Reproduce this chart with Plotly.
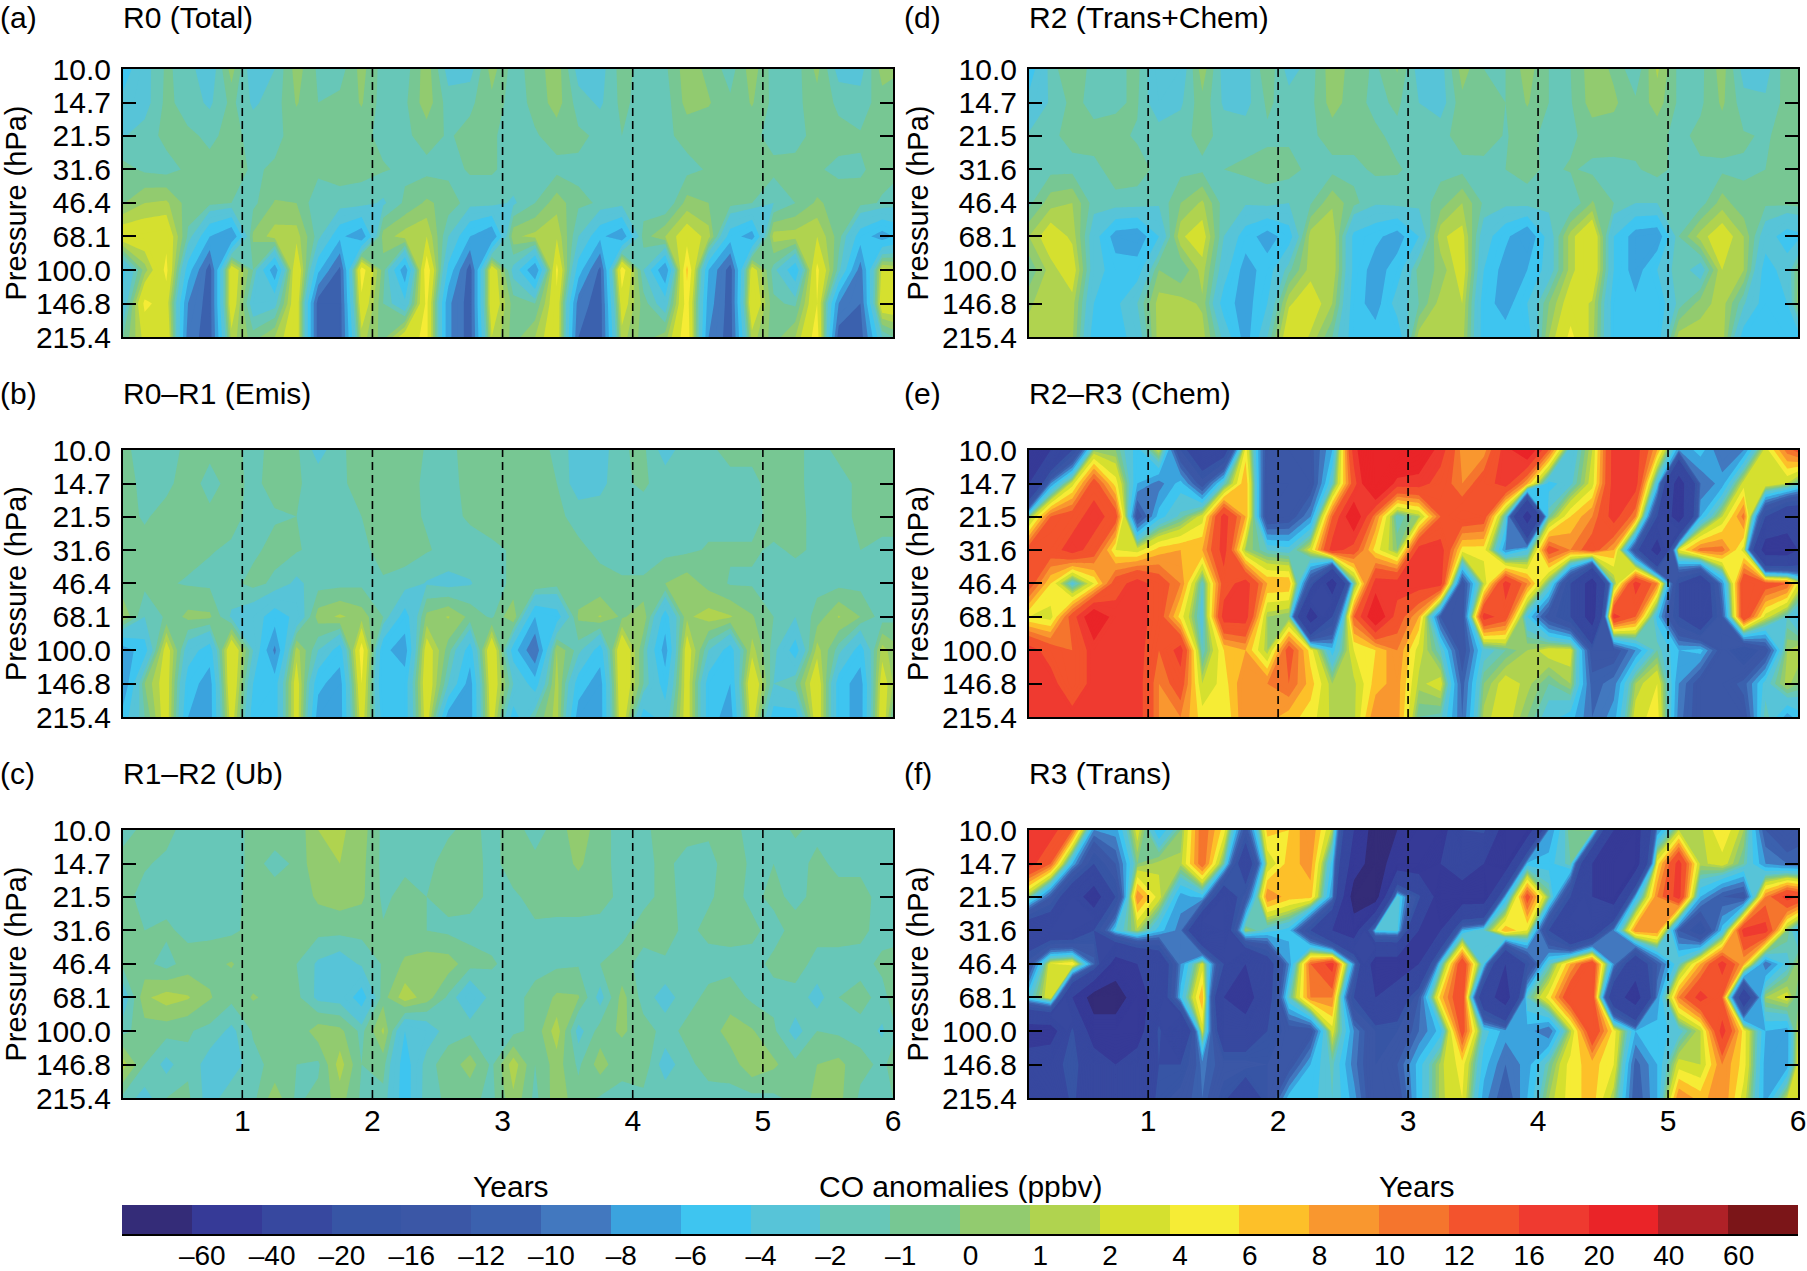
import numpy as np
import plotly.graph_objects as go

years = [0.083,0.25,0.417,0.583,0.75,0.917,1.083,1.25,1.417,1.583,1.75,1.917,
         2.083,2.25,2.417,2.583,2.75,2.917,3.083,3.25,3.417,3.583,3.75,3.917,
         4.083,4.25,4.417,4.583,4.75,4.917,5.083,5.25,5.417,5.583,5.75,5.917,6.0]
pressure = [10.0,14.7,21.5,31.6,46.4,68.1,100.0,146.8,215.4]
pressure_labels = ["10.0","14.7","21.5","31.6","46.4","68.1","100.0","146.8","215.4"]
level_values = [-60,-40,-20,-16,-12,-10,-8,-6,-4,-2,-1,0,1,2,4,6,8,10,12,16,20,40,60]
level_labels = ["–60","–40","–20","–16","–12","–10","–8","–6","–4","–2","–1","0","1","2","4","6","8","10","12","16","20","40","60"]
band_colors = ["#342c78","#363a97","#37489f","#3755a5","#3b57a6","#3b61ae","#4278bf","#3ba3de",
               "#3ec5f0","#57c4d8","#67c7b8","#77c793","#92cb6f","#b0d34f","#d5e02f","#f6ec35",
               "#fdc029","#f9972f","#f5752d","#f3532d","#ef3a30","#ea2428","#af2127","#7b1518"]

R0_total = [
 [-5,-2.5,-0.8,-1.5,-3,0.5,-3,-2,0.5,-1.2, -1.5,0.4,-1.5,-1.5,0.6,-2.5,-2.5,0.5,-1.5,-0.5, 0.6,-2.5,-2.5,-0.5,-1.5,-1.2,0.6,-0.3,-1.5,0.6, -1.5,-1.5,0.3,-2.5,-2.5,0.5,0.2],
 [-3.5,-2.5,-0.7,-1.5,-2.2,-0.7,-2.2,-1.5,0.1,-1, -0.7,0.1,-1.5,-1.2,0.6,-1.5,-1.2,-0.3,-1.5,-0.7, 0.5,-1.5,-2.2,-0.7,-1.5,-1.5,0.4,0.1,-0.8,0.1, -1.3,-1.3,-0.4,-1.2,-1.5,-0.5,-0.5],
 [-2.1,-1.5,-0.7,-0.8,-1.2,-0.7,-1.3,-1.2,-0.7,-0.6, -0.6,-0.7,-1.3,-1.2,-0.6,-1.1,-0.7,-0.9,-1.3,-1.1, -0.6,-0.8,-1.2,-1,-1.3,-1.2,-0.7,-0.7,-0.6,-0.7, -1.4,-1.3,-0.7,-0.7,-0.9,-0.9,-0.8],
 [-0.6,-1.2,-1.4,-0.8,-0.7,-0.7,-1.1,-0.9,-0.7,-0.7, -0.7,-0.7,-0.9,-1.2,-1.3,-1.3,-0.9,-0.9,-1.3,-1.3, -1.3,-1.2,-1.2,-1.2,-1.3,-1.3,-1.3,-0.9,-0.7,-0.7, -0.7,-0.7,-0.9,-1.2,-1.1,-0.7,-0.7],
 [-0.1,1,1.2,-0.5,-0.7,-1,-1.3,0.1,0,-1.8, -1.3,-1.5,-2.2,-0.8,0.2,-0.4,-1.5,-1.5,-2.2,-1, 0.6,-0.8,-1.1,-1.5,-1.6,-2,0.4,0,-0.6,-1, -2,-1,0.2,-0.5,-0.7,-1.1,-1.4],
 [3.2,3.2,3.5,-1.2,-6,-8,0.2,1.5,1.5,-1.5, -5.5,-7.5,0.5,1.5,2,-2,-6,-8,0.8,1.3, 1.8,-2,-5.5,-7.5,-0.5,1,3,1.5,-5,-7, 1.5,1.5,2,-0.5,-5,-7,-6],
 [-4.5,0.5,4.5,-5,-11,3.5,-1,-7.5,4,-5.5, -10.5,5,-0.5,-7.5,5.5,-4.5,-11,3.5,-2.5,-8, 4.5,-5,-10.5,5.2,-2,-8,6.5,-6,-11,3, -1.5,-5.5,4.5,-1.5,-9,2.5,2],
 [-3.5,4.5,3,-8,-11,3.5,-3,-2.5,3.5,-11, -11,3.5,-1,-3.5,4.5,-7.5,-11,3.5,-0.5,-1, 3.5,-9,-11,3,-0.5,-3,5,-7,-11,4, -0.8,-1.2,4,-8,-10,3.5,3.5],
 [-1,2.5,4,-9,-11,1.5,-0.5,1,3.5,-11, -11,1.5,-0.5,3,4.5,-7.5,-11,2,-0.5,1, 3.5,-10,-11,1.5,-0.5,0.5,5.5,-8,-11,1.5, -0.5,1,5,-11,-11,-2,-1],
]
R0_minus_R1 = [
 [-0.7,-1.5,-1.5,-0.7,-0.8,-0.7,-1.3,-0.7,-0.8,-2.5, -1.2,-0.5,-0.2,-0.4,-1.1,-1.2,-0.7,-0.3,-0.7,-0.8, -1.1,-2.8,-2.6,-1.1,-0.8,-2.6,-1.3,-1.2,-0.7,-0.8, -0.7,-0.8,-1.3,-0.8,-0.7,-0.5,-0.6],
 [-0.7,-1.2,-1.2,-0.6,-1.3,-0.7,-1.2,-0.7,-0.9,-1.3, -1.1,-0.8,-0.7,-0.6,-1.2,-1.2,-0.8,-0.8,-0.7,-0.8, -1,-2.7,-2.4,-1.1,-0.9,-1.3,-1.4,-1.1,-1.3,-1.2, -0.7,-0.8,-1.3,-1.3,-0.8,-0.7,-0.7],
 [-0.7,-1.1,-0.7,-0.7,-0.8,-0.8,-1.2,-1.1,-1,-1.3, -1.3,-1,-0.7,-0.7,-1.1,-1.2,-0.9,-0.6,-0.7,-0.7, -0.8,-1.3,-1.3,-1.1,-1.3,-1.3,-1.3,-1.3,-1.3,-1.3, -0.7,-0.9,-1.1,-1.3,-0.8,-0.7,-0.7],
 [-0.7,-0.7,-0.7,-0.7,-0.95,-1.1,-1.2,-0.7,-0.9,-1.3, -1.3,-1.2,-0.7,-0.7,-0.9,-1.3,-1.3,-1.2,-0.9,-0.7, -0.7,-0.8,-1.2,-1.3,-1.3,-1.3,-1.2,-0.9,-0.9,-0.9, -1.1,-0.9,-1.1,-1.3,-1,-1.2,-1.2],
 [-0.8,-0.7,-0.9,-1.1,-1.2,-1.3,-0.7,-1.2,-2.3,-1.4, -1.3,-1.2,-1.1,-1.3,-2.1,-2.4,-2.1,-1.2,-0.9,0, -0.6,-0.7,-0.7,-0.9,-0.9,0,0.6,-0.4,-1.1,-1.1, -1.2,-1.3,-1.3,-1.3,-1.3,-1.3,-1.3],
 [1,-2,-0.8,0.3,0.2,-2.2,-3,-5,-3.5,0.5, 1.2,0.5,-1,-5,0.3,1.1,-0.3,-1.2,1,-6, -5,0.2,1.1,-0.2,0.8,-5,0.8,1.5,1.1,0.1, -1,-2,-0.6,1.1,0,-1.5,-1.3],
 [-7,-5,3,-3,-5,4,-2,-8.5,1.5,-2, -5,5,-5.5,-7,3,-0.5,-5,4,-5,-10, 1,-1.5,-5,4,-1,-7,3,-2,-5,1.5, -1.5,-5,1.5,-1.5,-5,1.5,0.5],
 [-8,0,3,-5,-7,4,-4,-5,3,-5.5, -7,4,-6,-5,3.5,-2,-7,3.5,-2,-5, 1.5,-5,-7,4,-1,-5,3,-5,-6,4, -2,-1,3.5,-5,-7,3,1],
 [-5,-1,3,-6,-7,3,-5,-5,3,-7, -7,3,-5,-5,3,-7,-7,3,-5,-1, 1.5,-7,-7,3.5,-5,-3,3,-5,-7,3, -5,-5,3.5,-5,-7,3.5,-1],
]
R1_minus_R2 = [
 [-1.3,-0.8,-0.7,-1.4,-1.3,-1.3,-0.8,-0.7,-0.7,1, 1.2,0.5,-1.3,-1.4,-1.3,-1.1,-0.8,-1.2,-0.7,-1.3, -0.7,0.8,-0.7,-1.3,-1.2,-0.6,-0.7,-0.9,-0.8,-1.2, -1.3,-0.9,-1.2,-1.3,-1.3,-1.3,-1.3],
 [-0.7,-0.9,-1.2,-1.7,-1.3,-1.3,-0.8,-1.2,-0.9,1, 1,0.3,-1.3,-1.2,-1.2,-0.7,-0.7,-1.2,-0.7,-0.8, -0.6,0.2,-0.7,-1.3,-1.2,-0.8,-1.3,-1.2,-0.7,-1.1, -1,-1.3,-0.8,-1.2,-1.2,-1.3,-1.3],
 [-0.7,-1.3,-1.4,-1.3,-1.3,-1.3,-0.7,-0.7,-0.7,0.2, 0.5,0.2,-1.2,-0.7,-1,-0.7,-0.7,-1.2,-1.1,-0.8, -0.7,-0.7,-0.7,-1.2,-1.2,-0.8,-1.2,-1.1,-0.7,-1.2, -0.8,-1.2,-0.8,-0.7,-0.7,-1.3,-1.3],
 [-0.8,-1,-0.8,-1.3,-1.3,-1.2,-0.7,-0.7,-0.7,-0.7, -0.7,-0.7,-0.9,-0.7,-1,-1.2,-1.3,-1.3,-1.1,-1.1, -1.2,-1.2,-1.3,-1.2,-0.7,-0.7,-1.2,-0.8,-0.7,-0.8, -1.3,-0.7,-0.7,-0.7,-0.8,-1.3,-1.3],
 [-0.7,-0.7,-1.4,-0.5,-0.3,0.1,-0.7,-0.7,-1,-2.2, -2.8,-1.8,-0.9,0.2,0.6,0.5,-0.6,-0.9,-1.3,-1.2, -1.2,-1.1,-1,-0.7,-1.3,-1.1,-1.3,-1.3,-1.3,-1.3, -0.8,-0.6,-1.3,-1.3,-1.3,-0.8,-0.7],
 [-3,0.8,1.5,1.1,0.1,-0.7,0.1,-0.3,-0.7,-2.3, -2.5,-5,-0.4,1.6,0.5,-1.2,-3.5,-1.5,-1.2,-0.8, 0.2,0.1,-2.5,0.4,-1.4,-2.6,-1.3,-0.8,-0.5,-1.2, -1.3,-1.3,-2.5,-1,-0.7,-1.3,-0.7],
 [-1.3,-0.5,-0.6,-0.9,-1.3,-2.3,-0.9,0,-0.8,0.6, 0.3,-1.3,1.2,-4,-3,-1.3,-1.2,-1.3,-1.3,-0.7, 1.6,-2.5,-0.5,0.2,-0.6,-1.3,-0.8,-0.6,0.5,0.1, -0.8,-2.5,-1,-1.2,-1.3,-2.2,-1.2],
 [1.5,-1,-2.4,-1.2,-2.6,-2.7,-1.3,-0.7,-1,-1.2, 1.5,-1,-0.6,-5,-1.3,-0.6,0.5,-1.2,1.6,-1, 0.5,-1.2,0.5,-0.8,-0.3,-2.7,-1.2,-0.7,-0.6,0.8, 0.2,-0.7,0,0.3,-0.7,-1.2,-0.7],
 [-1.3,-2.5,-1,-0.8,-2.6,-1.2,-1.3,0.6,-1.2,-0.7, 0.5,-1.2,-1.3,-5,-1.2,-0.9,-0.7,-1.3,0.8,-1.3, 0.6,-0.6,-1.1,-1.2,-1.3,-1.2,-1.2,-1.3,-1.3,-1.3, -1.2,-0.7,0.3,0.3,-1.2,-1.3,-1],
]
R2_trans_chem = [
 [-5,-1.5,0,-1.5,-1.3,-0.7,-3.5,-3,0.6,-2.5, -2.5,-0.2,-2.5,-1.5,0.7,-0.5,-1.2,0.1,-2.5,-2.5, 0.5,-1,-1,0.5,-1,-1,0.6,-0.2,-1.8,1.2, -1.3,-1.3,0.5,-2.5,-2.5,-0.3,-0.5],
 [-3.5,-1.8,-0.7,-1.3,-1.1,-0.9,-3,-2.2,-0.3,-2.2, -2.4,-0.8,-1.5,-1.3,0.5,-0.6,-1.3,-0.8,-2,-2.6, -0.3,-0.9,-1,0.1,-1,-1.1,0.5,0.2,-0.8,0.5, -1.2,-1.2,0.2,-1.6,-1.8,-0.6,-0.6],
 [-1.8,-1.2,-0.7,-0.7,-0.8,-1.1,-1.3,-1.3,-0.7,-1.3, -1.4,-1.2,-1.2,-1.2,-0.6,-0.6,-0.8,-1.3,-1.3,-1.3, -0.6,-0.7,-1.05,-0.7,-1.3,-1.2,-0.6,-0.5,-0.7,-0.7, -1.3,-0.7,-0.6,-0.9,-1.1,-0.7,-0.7],
 [-1.3,-1.3,-1.3,-1.2,-0.7,-0.7,-1.2,-1.3,-1.2,-1, -0.8,-0.6,-0.6,-1.3,-1.3,-1.3,-0.8,-0.9,-1.3,-1.3, -1.3,-1.2,-1,-0.7,-1.2,-0.9,-1.2,-1.3,-1.1,-0.7, -1.3,-1.2,-1.2,-1.1,-1,-0.7,-0.7],
 [-1.3,0.6,1,-1.5,-1.2,-1.3,-1.8,0,1.2,-1.5, -1.8,-1.5,-2,-1.1,0.8,-0.7,-1.8,-1.5,-1.6,-0.5, 1,-1.2,-1.6,-1.4,-1.6,-2,0.1,-1,-2,-2, -1.6,-1.5,0.5,-0.8,-0.8,-0.7,-0.6],
 [1,3,1.7,-3,-7,-7.5,-4,1.8,2.8,-2, -5,-7,-5,1.5,2,-4.5,-5.5,-7,-4,1.8, 2.5,-3,-5.5,-8,-3,1.5,4,-4,-7,-7.5, -1,1.5,3,1,-3,-5,-4.5],
 [-0.8,1.5,3,-3,-5,-5,0,-1,1.5,-3, -7,-5,-1.3,1.5,2,-4.5,-7,-5,-0.5,0.2, 3,-4,-7,-6,-3,1.5,4,-4,-7,-4, -1,-3,2,1,-5,-3,0],
 [0.8,1.8,1.5,-4,-4.5,-2,1.5,1.5,0.8,-5, -7,-4,1.8,3,1,-5,-7,-3,-1,1.5, 2,-5,-7,-4,0,3,1.8,-5,-5.5,-5.5, -1.5,0.5,1.5,-1.8,-5,-4,0.5],
 [1.5,1.7,1.2,-5,-5,-3,1.5,1.5,1.5,-2.5, -7,-2,3.5,1.8,-1,-5,-5,-5.5,1.5,1.7, 1.5,-5,-5,-5,1,4.5,1.5,-5,-5,-5, 1.5,1.6,1.6,-5,-5,-5,-5],
]
R2_minus_R3 = [
 [-50,-40,-20,0.5,0,-5,2,-16,-30,-25, 5,-14,-14,-13,-6,18,30,30,25,18, 9,9,18,25,12,-4,2,18,18,8, -8,-5,-10,-8,3,11,13],
 [-40,-8,3,14,5,-6,-9,-5,-14,-2, 8,-15,-15,-14,-2,14,30,18,18,14, 10,14,18,8,-5,-2.5,3,18,18,-4, -50,-10,-7,3,4,2,-1],
 [0,12,14,18,14,-14,-5,-1.5,3,18, 8,-15,-14,-8,12,25,10,-2,1,12, 15,14,-2,-50,-1,6,10,18,10,-20, -50,-6,2,11,-20,-30,-30],
 [14,14,18,14,4,3,7,8,8,18, 1,-2,-3,3,18,14,5,0,18,18, 5,5,-8,-4,14,10,14,8,-15,-50, 4,11,11,3,-50,-50,-40],
 [14,6,-3,4,14,18,14,10,-2,14, 18,8,8,-15,-50,-1,18,18,18,18, -14,2,18,10,-1,-20,-50,0,18,10, -20,-30,-8,16,14,12,4],
 [4,3,14,25,18,18,14,5,-3,18, 18,1,0,-50,-20,12,25,14,8,-12, -14,18,14,-4,-14,-20,-50,18,12,-5, -20,-30,-12,16,3,-2,-5],
 [18,14,12,18,18,18,12,18,-2,6, 8,1,14,5,-5,4,6,10,3,-2, -14,-3,-1,1,3,3,-14,-14,-8,-1, -6,-5,-14,-20,-14,1,2],
 [18,18,12,18,18,18,10,14,2,5, 10,10,12,7,1,1.5,7,9,1.5,3, -11,0,3,1.5,-1,1,-11,-9,1,4, -8,-14,-14,-11,-3,1.5,0],
 [18,18,18,18,18,18,10,10,5,4, 10,9,7,5,1.5,1.5,10,9,-1,-1.5, -10,1.5,3,0,-3,-5,-10,-7,3,5, -9,-14,-14,-14,-1,-7,-5],
]
R3_trans = [
 [18,18,12,-8,-7,3,-6,0,12,5, -14,7,6,10,1.5,-40,-70,-60,-50,-50, -20,-18,-50,-50,-8,0,1,-40,-50,-8, 2,1.5,6,1,-12,-16,-14],
 [18,12,-6,-20,-12,0,1.5,1.5,12,-1, -30,2,7,9,-5,-50,-70,-50,-50,-40, -30,-40,-50,-5,-5,-1,-40,-50,-50,5, 18,1.5,3,-1,-8,-10,-10],
 [0,-12,-30,-50,-20,10,3,-7,-5,-30, -14,10,7,7,-8,-70,-70,-2,-18,-50, -50,-50,-6,14,0,-20,-40,-50,-6,10, 18,-6,-12,-14,10,18,16],
 [-30,-30,-30,-20,-4,1.5,-5,-9,-40,-30, 1,-3,-5,-20,-40,-50,-4,-3,-40,-40, -6,-2,8,4,-20,-40,-30,-8,10,10, -12,-20,-5,18,18,0,-5],
 [-14,4,6,-10,-50,-40,-30,-8,3,-20, -40,-25,-8,12,18,-8,-50,-50,-40,-3, 16,-4,-40,-18,-2,8,16,-8,-30,-12, -2,8,18,8,-10,-3,1],
 [-3,4,-40,-70,-70,-50,-30,-5,8,-40, -50,-25,-2,10,10,-20,-40,-30,-12,7, 16,-30,-50,-2,5,16,16,-30,-50,-8, 10,18,12,-30,1,3,-1],
 [-50,-50,-18,-50,-50,-50,-18,-40,3,-30, -30,-20,-14,-14,3,-8,-16,-16,-10,-5, 14,-3,-7,-7,-10,1.5,16,5,-6,-5, -3,2,18,5,-6,-7,2],
 [-30,-25,-16,-30,-40,-30,-20,-20,-9,-14, -14,-16,-14,-6,-1.5,-9,-16,-12,-5,1.5, 5,-5,-10,-7,-1,5,7,4,-11,-6, 3,2,10,5,-7,-7,3],
 [-40,-30,-18,-30,-40,-30,-18,-14,-10,-18, -30,-16,-5,-5,-2,-7,-16,-14,-5,1.5, 4,-7,-12,-6,1,5,7,1,-12,-6, 10,7,10,3,-7,2,3],
]

panels = [
    ("(a)", "R0 (Total)", R0_total),
    ("(b)", "R0–R1 (Emis)", R0_minus_R1),
    ("(c)", "R1–R2 (Ub)", R1_minus_R2),
    ("(d)", "R2 (Trans+Chem)", R2_trans_chem),
    ("(e)", "R2–R3 (Chem)", R2_minus_R3),
    ("(f)", "R3 (Trans)", R3_trans),
]

W, H = 1807, 1271
FONT = "Liberation Sans, Arial, sans-serif"
FS = 30
col_x = [(123, 893), (1029, 1798)]
row_y = [(69, 337), (450, 717), (830, 1098)]
title_y = [18, 393, 773]
letter_x = [0, 904]
Z_LO, Z_HI = -80, 80

# Stepped colour scale in ppbv: the level list sets every colour change
edges = [Z_LO] + level_values + [Z_HI]
z_colorscale = []
for k, col in enumerate(band_colors):
    z_colorscale += [[(edges[k] - Z_LO) / (Z_HI - Z_LO), col],
                     [(edges[k + 1] - Z_LO) / (Z_HI - Z_LO), col]]

fig = go.Figure()
annotations = []
shapes = []
axis_common = dict(showgrid=False, zeroline=False, showline=True, linecolor="black",
                   linewidth=2, mirror=True, automargin=False)

for idx, (letter, name, values) in enumerate(panels):
    c, r = idx // 3, idx % 3
    xn = "" if idx == 0 else str(idx + 1)
    fig.add_trace(go.Contour(
        x=years, y=pressure, z=values, xaxis="x" + xn, yaxis="y" + xn,
        zmin=Z_LO, zmax=Z_HI, colorscale=z_colorscale, showscale=False, autocontour=False,
        contours=dict(start=Z_LO, end=Z_HI, size=1, coloring="fill", showlines=False),
        line=dict(width=0, smoothing=0), hoverinfo="skip",
    ))
    x0, x1 = col_x[c]
    y0, y1 = row_y[r]
    fig.layout["xaxis" + xn] = dict(
        axis_common, domain=[x0 / W, x1 / W], range=[1 / 12, 6], anchor="y" + xn,
        tickvals=[1, 2, 3, 4, 5, 6], ticks="",
        showticklabels=(r == 2), ticklabelstandoff=-5,
        tickfont=dict(family=FONT, size=FS, color="black"),
    )
    fig.layout["yaxis" + xn] = dict(
        axis_common, mirror="ticks", domain=[1 - y1 / H, 1 - y0 / H], type="log",
        range=[np.log10(215.4), 1], anchor="x" + xn,
        tickvals=pressure, ticktext=pressure_labels, ticks="inside", ticklen=13,
        tickwidth=2, tickcolor="black", ticklabelstandoff=4,
        tickfont=dict(family=FONT, size=FS, color="black"),
        title=dict(text="Pressure (hPa)", standoff=5,
                   font=dict(family=FONT, size=29, color="black")),
    )
    for yr in [1, 2, 3, 4, 5]:
        shapes.append(dict(type="line", xref="x" + xn, yref="y" + xn + " domain",
                           x0=yr, x1=yr, y0=0, y1=1,
                           line=dict(color="black", width=1.6, dash="8px,5px")))
    ty = 1 - title_y[r] / H
    annotations.append(dict(text=letter, xref="paper", yref="paper", x=(letter_x[c] - 2) / W, y=ty,
                            xanchor="left", yanchor="middle", showarrow=False,
                            font=dict(family=FONT, size=FS, color="black")))
    annotations.append(dict(text=name, xref="paper", yref="paper", x=(x0 - 2) / W, y=ty,
                            xanchor="left", yanchor="middle", showarrow=False,
                            font=dict(family=FONT, size=FS, color="black")))

# legend bar on its own axes, built from the level list
n = len(band_colors)
colorscale = []
for k, col in enumerate(band_colors):
    colorscale += [[k / n, col], [(k + 1) / n, col]]
band_pos = [k - 0.5 for k in range(n)]
fig.add_trace(go.Heatmap(
    x=band_pos, y=[0], z=[band_pos], xaxis="x7", yaxis="y7",
    zmin=-1, zmax=23, colorscale=colorscale, showscale=False, hoverinfo="skip",
))
fig.layout.xaxis7 = dict(
    domain=[122 / W, 1798 / W], range=[-1, 23], anchor="y7", showgrid=False, zeroline=False,
    showline=True, linecolor="black", linewidth=2, automargin=False,
    tickvals=[k + 0.15 for k in range(len(level_labels))], ticktext=level_labels,
    ticks="", ticklabelstandoff=-5,
    tickfont=dict(family=FONT, size=28, color="black"),
)
fig.layout.yaxis7 = dict(domain=[1 - 1234 / H, 1 - 1205 / H], anchor="x7", visible=False,
                         range=[-0.5, 0.5], automargin=False)

for text, px in [("Years", 511), ("CO anomalies (ppbv)", 961), ("Years", 1417)]:
    annotations.append(dict(text=text, xref="paper", yref="paper", x=px / W, y=1 - 1186 / H,
                            xanchor="center", yanchor="middle", showarrow=False,
                            font=dict(family=FONT, size=FS, color="black")))

fig.update_layout(width=W, height=H, margin=dict(l=0, r=0, t=0, b=0),
                  paper_bgcolor="white", plot_bgcolor="white", showlegend=False,
                  annotations=annotations, shapes=shapes)
fig.write_html("out.html", config=dict(displayModeBar=False),
               post_script="document.body.style.margin='0';")
